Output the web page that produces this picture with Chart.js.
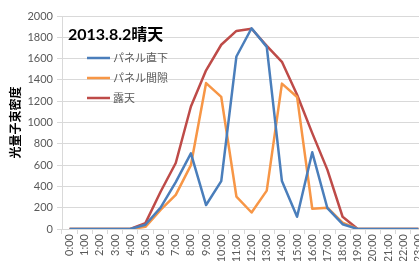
<!DOCTYPE html>
<html lang="ja">
<head>
<meta charset="UTF-8">
<title>光量子束密度 2013.8.2</title>
<script src="https://cdn.jsdelivr.net/npm/chart.js"></script>
<style>
  html, body { margin: 0; padding: 0; background: #fff; overflow: hidden; }
  #wrap { width: 432px; height: 261px; }
</style>
</head>
<body>
<div id="wrap">
  <canvas id="chart" width="432" height="261"></canvas>
</div>
<script>
// hours of the day
var hours = ['0:00','1:00','2:00','3:00','4:00','5:00','6:00','7:00','8:00','9:00','10:00','11:00',
             '12:00','13:00','14:00','15:00','16:00','17:00','18:00','19:00','20:00','21:00','22:00','23:00'];
// series
var underPanel = [0,0,0,0,0,40,200,440,710,225,450,1620,1885,1710,450,115,720,195,45,0,0,0,0,0];
var betweenPanel = [0,0,0,0,0,20,180,320,600,1370,1240,305,155,360,1365,1240,190,200,60,0,0,0,0,0];
var openSky = [0,0,0,0,0,55,350,620,1150,1490,1730,1860,1880,1720,1570,1260,900,555,115,0,0,0,0,0];
var seriesNames = ['パネル直下', 'パネル間隙', '露天'];
var chartTitle = '2013.8.2晴天';
var yTitle = '光量子束密度';

var FONT = 'Lato, "Noto Sans CJK JP", sans-serif';
var GRID = '#d9d9d9';

function line(label, data, color) {
  return {
    label: label,
    data: data,
    borderColor: color,
    backgroundColor: color,
    borderWidth: 2.5,
    pointRadius: 0,
    tension: 0,
    borderJoinStyle: 'round',
    fill: false
  };
}

// title and legend drawn inside the plot, like the original sheet
var insidePlot = {
  id: 'insidePlot',
  afterDraw: function(chart) {
    var ctx = chart.ctx;
    var a = chart.chartArea;
    ctx.save();
    ctx.fillStyle = '#000';
    ctx.font = 'bold 16px ' + FONT;
    ctx.textBaseline = 'alphabetic';
    ctx.fillText(chartTitle, a.left + 6, a.top + 24);
    ctx.font = '11px ' + FONT;
    ctx.textBaseline = 'middle';
    chart.data.datasets.forEach(function(ds, i) {
      var y = a.top + 42 + i * 20;
      ctx.strokeStyle = ds.borderColor;
      ctx.lineWidth = 2.5;
      ctx.beginPath();
      ctx.moveTo(a.left + 25, y);
      ctx.lineTo(a.left + 48, y);
      ctx.stroke();
      ctx.fillStyle = '#595959';
      ctx.fillText(ds.label, a.left + 51, y);
    });
    ctx.restore();
  }
};

new Chart(document.getElementById('chart').getContext('2d'), {
  type: 'line',
  data: {
    labels: hours,
    datasets: [
      line(seriesNames[0], underPanel, '#4a7ebb'),
      line(seriesNames[1], betweenPanel, '#f79646'),
      line(seriesNames[2], openSky, '#be4b48')
    ]
  },
  options: {
    responsive: false,
    animation: false,
    layout: { padding: { top: 16, right: 6, bottom: 0, left: 0 } },
    plugins: {
      legend: { display: false },
      title: { display: false },
      tooltip: { enabled: false }
    },
    scales: {
      x: {
        offset: true,
        grid: { display: true, offset: true, drawOnChartArea: false, color: GRID, tickLength: 5 },
        border: { display: true, color: GRID },
        ticks: {
          minRotation: 90, maxRotation: 90, autoSkip: false, padding: 0,
          color: '#595959', font: { family: FONT, size: 11 }
        },
        afterFit: function(s) { s.height = 32; }
      },
      y: {
        min: 0, max: 2000,
        grid: { color: GRID, tickLength: 5 },
        border: { display: true, color: GRID },
        ticks: {
          stepSize: 200, padding: 4, color: '#595959', font: { family: FONT, size: 11 },
          callback: function(v) { return String(v); }
        },
        title: {
          display: true, text: yTitle, color: '#000',
          font: { family: FONT, size: 12, weight: 'bold' },
          padding: { top: 9, bottom: 0 }
        },
        afterFit: function(s) { s.width = 62; }
      }
    }
  },
  plugins: [insidePlot]
});
</script>
</body>
</html>
